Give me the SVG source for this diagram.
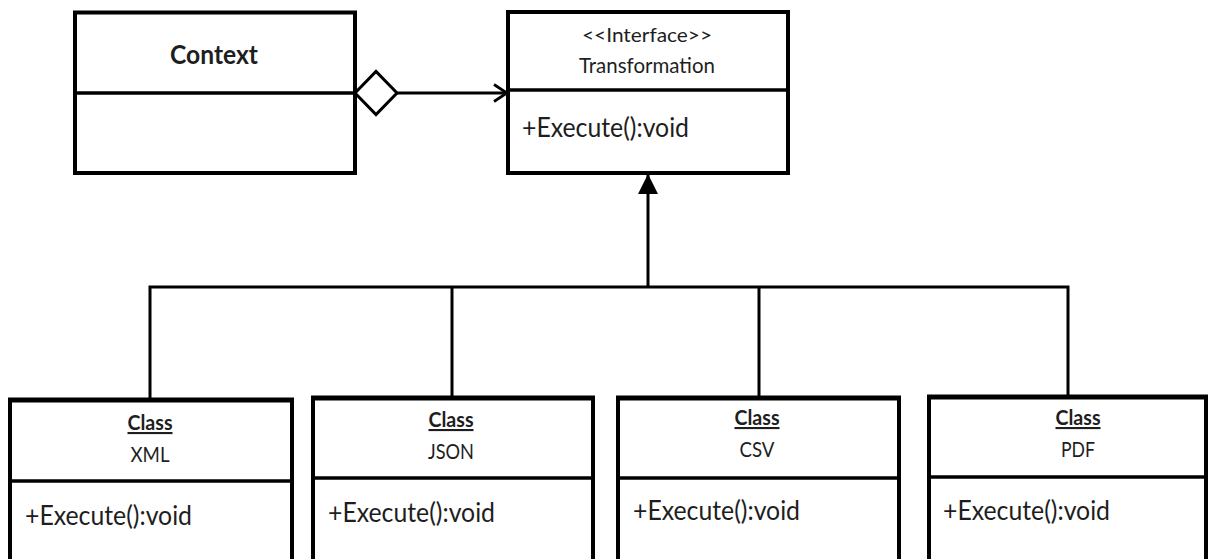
<svg xmlns="http://www.w3.org/2000/svg" width="1208" height="559" viewBox="0 0 1208 559">
  <defs>
    <style>
      .box { fill: #fff; stroke: #000; stroke-width: 4; }
      .boxTop { stroke: #000; stroke-width: 5; }
      .div { stroke: #000; stroke-width: 3.5; }
      .conn { fill: none; stroke: #000; stroke-width: 3; }
      .txt { font-family: Lato, "Open Sans", "Liberation Sans", sans-serif; fill: #1e1e1e; }
      .title { font-size: 26px; font-weight: bold; text-anchor: middle; }
      .stereo { font-size: 20px; text-anchor: middle; }
      .name { font-size: 21px; text-anchor: middle; }
      .cls { font-size: 21px; font-weight: bold; text-anchor: middle; text-decoration: underline; }
      .op { font-size: 26px; }
    </style>
    <!-- filled triangle for generalization -->
    <marker id="inherit" viewBox="0 0 20 20" refX="19" refY="10" markerWidth="20" markerHeight="20" markerUnits="userSpaceOnUse" orient="auto">
      <path d="M0,0 L20,10 L0,20 Z" fill="#000"/>
    </marker>
    <!-- open arrowhead for navigable association -->
    <marker id="open" viewBox="0 0 16 20" refX="14" refY="10" markerWidth="16" markerHeight="20" markerUnits="userSpaceOnUse" orient="auto">
      <path d="M1,1.5 L14,10 L1,18.5" fill="none" stroke="#000" stroke-width="2.8"/>
    </marker>
  </defs>

  <rect width="1208" height="559" fill="#fff"/>

  <!-- connectors -->
  <g id="connectors">
    <line class="conn" x1="397" y1="93" x2="507" y2="93" marker-end="url(#open)"/>
    <polygon points="355,93 376,71.5 397,93 376,114.5" fill="#fff" stroke="#000" stroke-width="3"/>
    <polyline class="conn" points="150,400 150,287 1068,287 1068,397"/>
    <line class="conn" x1="452" y1="287" x2="452" y2="398"/>
    <line class="conn" x1="759" y1="287" x2="759" y2="398"/>
    <line class="conn" x1="648" y1="287" x2="648" y2="175" marker-end="url(#inherit)"/>
  </g>

  <!-- Context -->
  <g id="context">
    <rect class="box" x="75" y="12.5" width="280" height="160.5"/>
    <line class="div" x1="75" y1="93" x2="355" y2="93"/>
    <text class="txt title" x="214" y="64" textLength="88" lengthAdjust="spacingAndGlyphs">Context</text>
  </g>

  <!-- Transformation interface -->
  <g id="transformation">
    <rect class="box" x="508" y="12" width="280" height="161"/>
    <line class="div" x1="508" y1="90" x2="788" y2="90"/>
    <text class="txt stereo" x="647" y="42" textLength="130" lengthAdjust="spacingAndGlyphs">&lt;&lt;Interface&gt;&gt;</text>
    <text class="txt name" x="647" y="73" textLength="136" lengthAdjust="spacingAndGlyphs">Transformation</text>
    <text class="txt op" x="522" y="137" textLength="167" lengthAdjust="spacingAndGlyphs">+Execute():void</text>
  </g>

  <!-- XML -->
  <g id="xml">
    <rect class="box" x="10" y="400" width="282" height="162"/>
    <line class="boxTop" x1="8" y1="400" x2="294" y2="400"/>
    <line class="div" x1="10" y1="481" x2="292" y2="481"/>
    <text class="txt cls" x="150" y="430" textLength="45" lengthAdjust="spacingAndGlyphs">Class</text>
    <text class="txt name" x="150" y="462" textLength="39" lengthAdjust="spacingAndGlyphs">XML</text>
    <text class="txt op" x="25" y="525" textLength="167" lengthAdjust="spacingAndGlyphs">+Execute():void</text>
  </g>

  <!-- JSON -->
  <g id="json">
    <rect class="box" x="313" y="398" width="280" height="164"/>
    <line class="boxTop" x1="311" y1="398" x2="595" y2="398"/>
    <line class="div" x1="313" y1="478" x2="593" y2="478"/>
    <text class="txt cls" x="451" y="427" textLength="45" lengthAdjust="spacingAndGlyphs">Class</text>
    <text class="txt name" x="451" y="459" textLength="46" lengthAdjust="spacingAndGlyphs">JSON</text>
    <text class="txt op" x="328" y="522" textLength="167" lengthAdjust="spacingAndGlyphs">+Execute():void</text>
  </g>

  <!-- CSV -->
  <g id="csv">
    <rect class="box" x="618" y="398" width="281" height="164"/>
    <line class="boxTop" x1="616" y1="398" x2="901" y2="398"/>
    <line class="div" x1="618" y1="478" x2="899" y2="478"/>
    <text class="txt cls" x="757" y="425" textLength="45" lengthAdjust="spacingAndGlyphs">Class</text>
    <text class="txt name" x="757" y="457" textLength="35" lengthAdjust="spacingAndGlyphs">CSV</text>
    <text class="txt op" x="633" y="520" textLength="167" lengthAdjust="spacingAndGlyphs">+Execute():void</text>
  </g>

  <!-- PDF -->
  <g id="pdf">
    <rect class="box" x="929" y="397" width="277" height="165"/>
    <line class="boxTop" x1="927" y1="397" x2="1208" y2="397"/>
    <line class="div" x1="929" y1="477" x2="1206" y2="477"/>
    <text class="txt cls" x="1078" y="425" textLength="45" lengthAdjust="spacingAndGlyphs">Class</text>
    <text class="txt name" x="1078" y="457" textLength="34" lengthAdjust="spacingAndGlyphs">PDF</text>
    <text class="txt op" x="943" y="520" textLength="167" lengthAdjust="spacingAndGlyphs">+Execute():void</text>
  </g>
</svg>
